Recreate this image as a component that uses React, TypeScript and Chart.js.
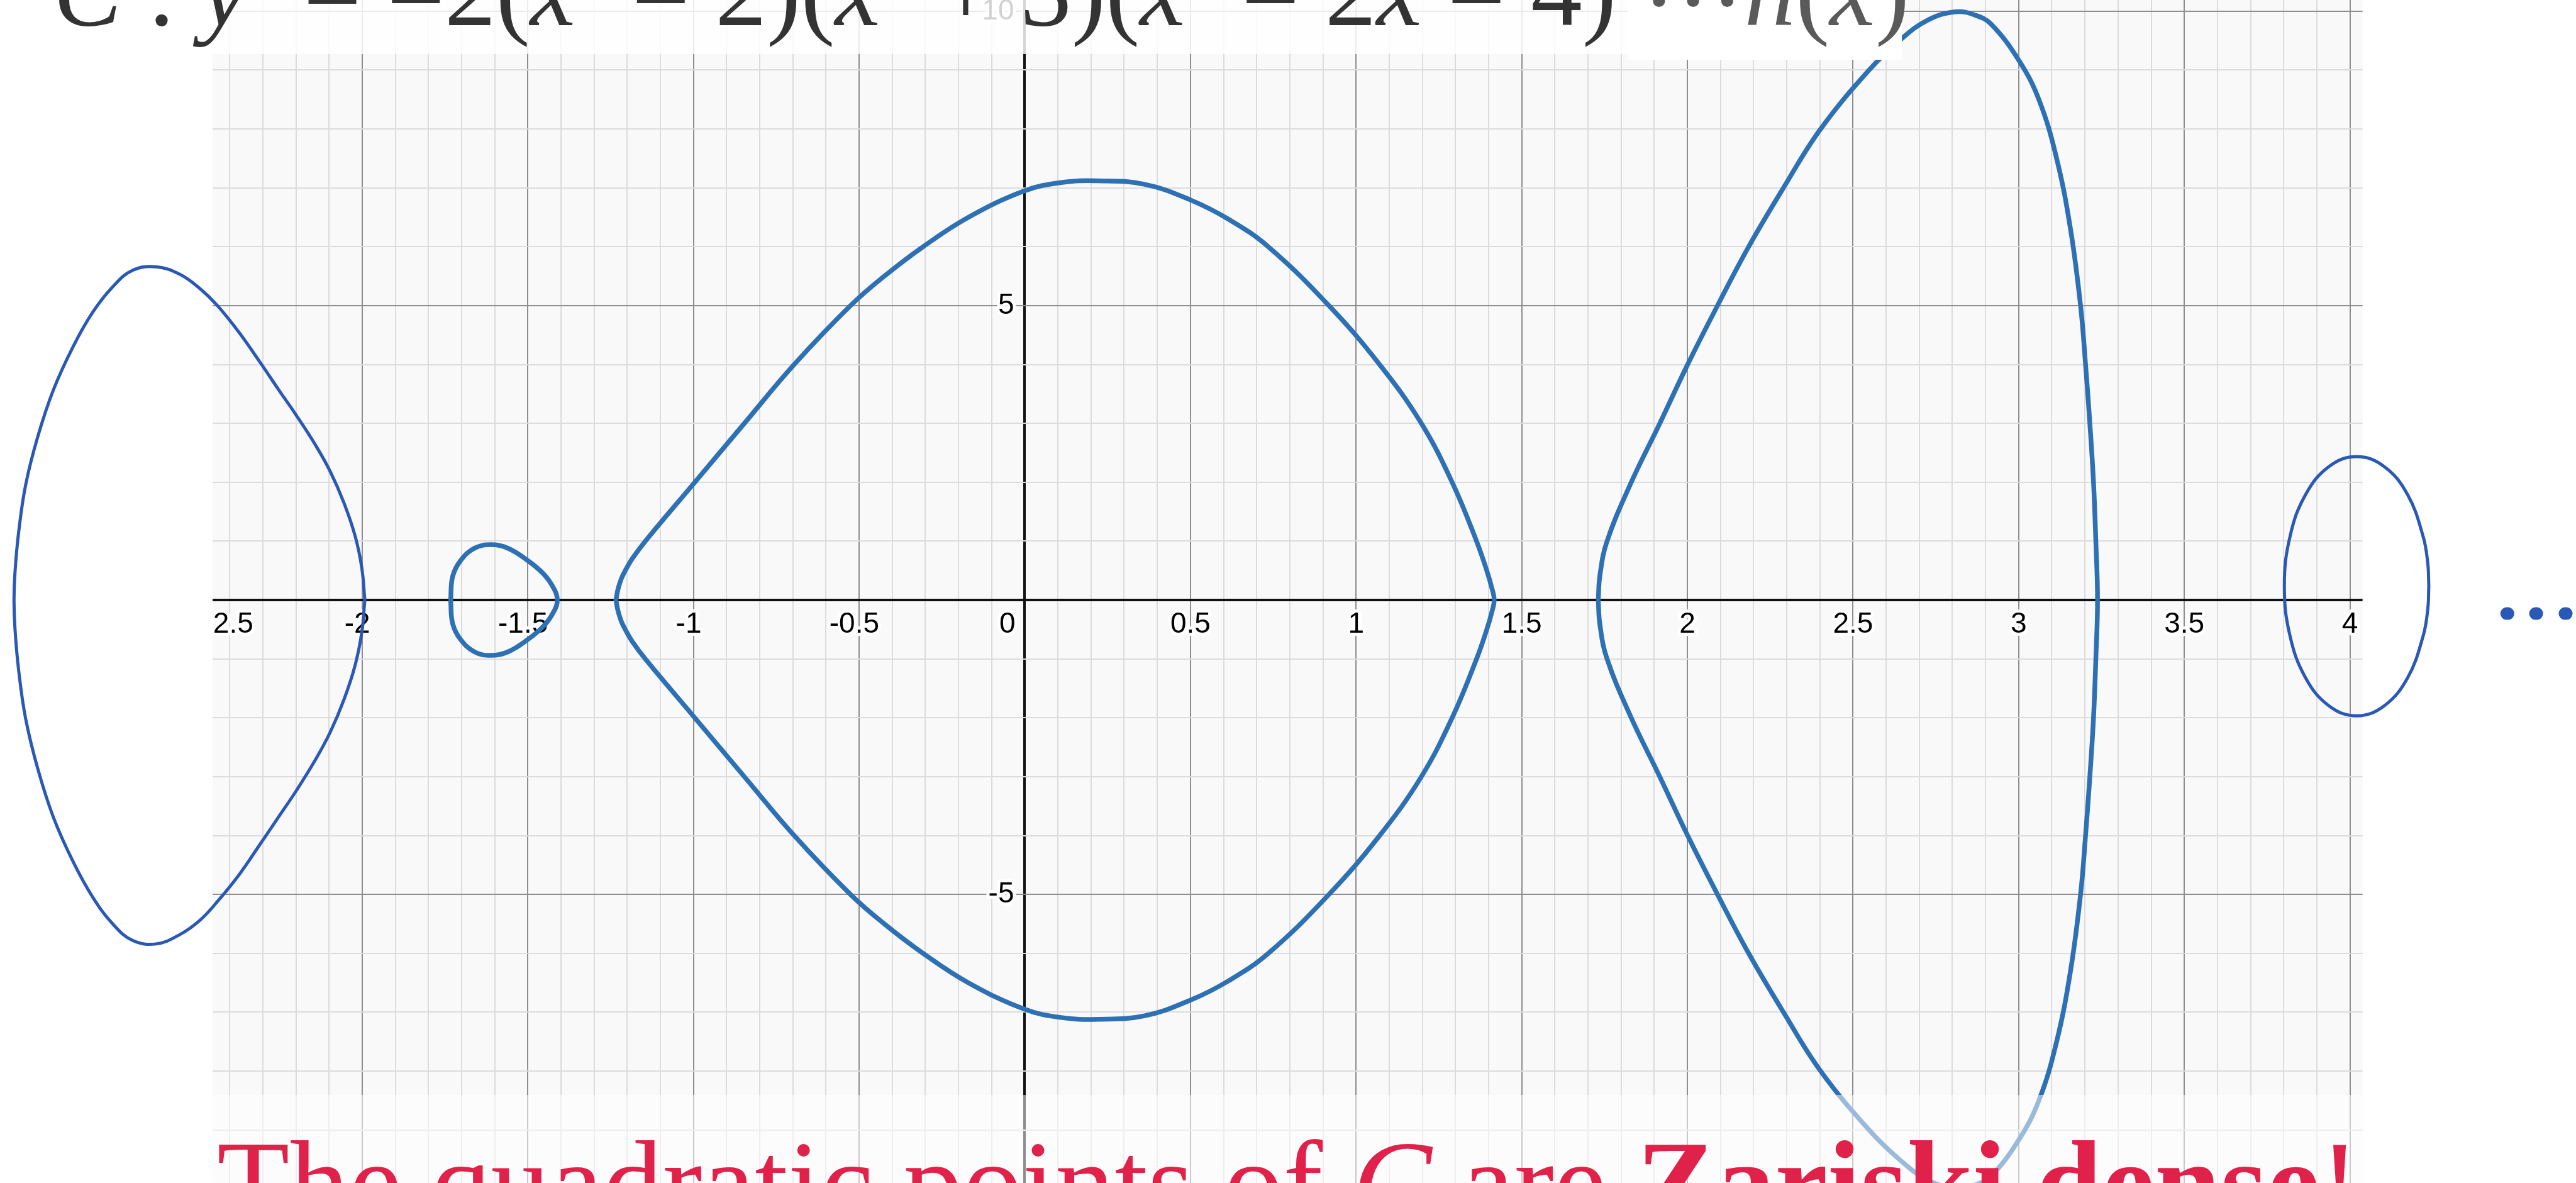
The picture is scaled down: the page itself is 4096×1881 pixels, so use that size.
import { useEffect, useRef } from 'react';
import { Chart, registerables } from 'chart.js';

Chart.register(...registerables);

// Visible window of the curve y^2 = f(x), in graph units
const X_MIN = -2.452;
const X_MAX = 4.038;
const Y_MIN = -9.9;
const Y_MAX = 10.19;

// Desmos-style axis labels
const xTickLabels = [-2.5, -2, -1.5, -1, -0.5, 0, 0.5, 1, 1.5, 2, 2.5, 3, 3.5, 4];
const yTickLabels = [10, 5, -5];

// Real components of the curve: [x, y] points along each closed oval
const bigOvalUpper = [
  [-1.234, 0], [-1.228, 0.18], [-1.218, 0.36], [-1.204, 0.52], [-1.184, 0.71], [-1.144, 1.01],
  [-0.996, 2.0], [-0.845, 3.01], [-0.696, 4.0], [-0.526, 5.0], [-0.424, 5.5], [-0.307, 6.0],
  [-0.17, 6.5], [0, 6.95], [0.11, 7.09], [0.219, 7.12], [0.362, 7.06], [0.502, 6.79], [0.614, 6.47],
  [0.735, 6.0], [0.918, 5.0], [1.071, 4.0], [1.196, 3.01], [1.29, 2.0], [1.363, 1.01], [1.394, 0.51],
  [1.41, 0.2], [1.417, 0],
];
const bigOvalLower = [
  [1.41, -0.2], [1.394, -0.51], [1.363, -1.01], [1.29, -2.0], [1.196, -3.01], [1.071, -4.0],
  [0.918, -5.0], [0.735, -6.0], [0.614, -6.47], [0.502, -6.79], [0.362, -7.06], [0.219, -7.12],
  [0.11, -7.09], [0, -6.95], [-0.17, -6.5], [-0.307, -6.0], [-0.424, -5.5], [-0.526, -5.0],
  [-0.696, -4.0], [-0.845, -3.01], [-0.996, -2.0], [-1.144, -1.01], [-1.184, -0.71], [-1.204, -0.52],
  [-1.218, -0.36], [-1.228, -0.18], [-1.234, 0],
];

const smallOvalUpper = [
  [-1.733, 0], [-1.727, 0.4], [-1.703, 0.67], [-1.661, 0.88], [-1.611, 0.94], [-1.56, 0.88],
  [-1.5, 0.67], [-1.452, 0.44], [-1.422, 0.2], [-1.411, 0],
];
const smallOvalLower = [
  [-1.422, -0.2], [-1.452, -0.44], [-1.5, -0.67], [-1.56, -0.88], [-1.611, -0.94], [-1.661, -0.88],
  [-1.703, -0.67], [-1.727, -0.4], [-1.733, 0],
];

const tallOvalUpper = [
  [1.731, 0], [1.736, 0.42], [1.757, 0.99], [1.829, 1.98], [1.915, 2.98], [2.0, 3.99], [2.09, 4.99],
  [2.184, 5.99], [2.289, 6.99], [2.401, 7.99], [2.547, 8.99], [2.642, 9.51], [2.726, 9.85],
  [2.81, 9.99], [2.87, 9.93], [2.917, 9.78], [3.0, 9.17], [3.061, 8.5], [3.115, 7.49], [3.157, 6.28],
  [3.187, 4.99], [3.202, 3.99], [3.215, 2.99], [3.226, 1.99], [3.233, 0.99], [3.238, 0],
];
const tallOvalLower = [
  [3.233, -0.99], [3.226, -1.99], [3.215, -2.99], [3.202, -3.99], [3.187, -4.99], [3.157, -6.28],
  [3.115, -7.49], [3.061, -8.5], [3.0, -9.17], [2.917, -9.78], [2.87, -9.93], [2.81, -9.99],
  [2.726, -9.85], [2.642, -9.51], [2.547, -8.99], [2.401, -7.99], [2.289, -6.99], [2.184, -5.99],
  [2.09, -4.99], [2.0, -3.99], [1.915, -2.98], [1.829, -1.98], [1.757, -0.99], [1.736, -0.42], [1.731, 0],
];

// Hand-drawn closure of the left component
const leftLoopUpper = [
  [-1.992, 0], [-2.001, 0.54], [-2.021, 1.08], [-2.055, 1.65], [-2.097, 2.19], [-2.144, 2.66],
  [-2.198, 3.13], [-2.252, 3.57], [-2.311, 4.06], [-2.371, 4.54], [-2.437, 5.0], [-2.49, 5.29],
  [-2.55, 5.53], [-2.622, 5.66], [-2.693, 5.6], [-2.753, 5.32], [-2.813, 4.89], [-2.872, 4.31],
  [-2.932, 3.57], [-2.98, 2.76], [-3.016, 1.95], [-3.037, 1.15], [-3.048, 0.47], [-3.051, 0],
];
const leftLoopLower = [
  [-3.048, -0.49], [-3.037, -1.19], [-3.016, -2.01], [-2.98, -2.85], [-2.932, -3.69], [-2.872, -4.45],
  [-2.813, -5.05], [-2.753, -5.5], [-2.693, -5.78], [-2.622, -5.84], [-2.55, -5.68], [-2.49, -5.44],
  [-2.437, -5.12], [-2.371, -4.66], [-2.311, -4.17], [-2.252, -3.68], [-2.198, -3.23], [-2.144, -2.74],
  [-2.097, -2.25], [-2.055, -1.69], [-2.021, -1.1], [-2.001, -0.54], [-1.992, 0],
];

// Next oval beyond the window
const rightLoop = [
  [4.238, 0.235], [4.235, 0.618], [4.221, 1.077], [4.174, 1.79], [4.103, 2.268], [4.02, 2.435],
  [3.937, 2.268], [3.866, 1.79], [3.819, 1.077], [3.802, 0.235], [3.819, -0.608], [3.866, -1.32],
  [3.937, -1.798], [4.02, -1.965], [4.103, -1.798], [4.174, -1.32], [4.221, -0.608], [4.235, -0.148],
  [4.238, 0.235],
];
// "more to come" dots, each a short round-capped stroke
const moreDots = [
  [[4.473, -0.23], [4.477, -0.23]],
  [[4.56, -0.23], [4.564, -0.23]],
  [[4.649, -0.23], [4.653, -0.23]],
];

// Slide text
const titleMain = ['C', ' : ', 'y', '²', ' = −2(', 'x', '²', ' − 2)(', 'x', '²', ' + 3)(', 'x', '²', ' − 2', 'x', ' − 4)'];
const titleTail = [' ···', 'h', '(', 'x', ')'];
const mathVars = new Set(['C', 'x', 'y', 'h']);
const footerLead = 'The quadratic points of ';
const footerVar = 'C';
const footerMid = ' are ';
const footerStrong = 'Zariski dense';
const footerEnd = '!';

const DESMOS_BLUE = '#2d70b3';
const PEN_BLUE = '#2a58b5';

const toPts = (a: number[][]) => a.map(([x, y]) => ({ x, y }));

const isMultiple = (v: number, step: number) => Math.abs(v / step - Math.round(v / step)) < 1e-6;

const gridBackground = {
  id: 'gridBackground',
  beforeDraw(chart: any) {
    const { ctx, chartArea: a } = chart;
    ctx.save();
    ctx.fillStyle = '#f9f9f9';
    ctx.fillRect(a.left, a.top, a.right - a.left, a.bottom - a.top);
    ctx.restore();
  },
};

const axisLabels = {
  id: 'axisLabels',
  beforeDatasetsDraw(chart: any) {
    const { ctx, chartArea: a, scales } = chart;
    const sx = scales.x;
    const sy = scales.y;
    const ax = sx.getPixelForValue(0);
    const ay = sy.getPixelForValue(0);
    ctx.save();
    ctx.beginPath();
    ctx.rect(a.left, a.top, a.right - a.left, a.bottom - a.top);
    ctx.clip();
    ctx.font = '46px "Liberation Sans", Arial, sans-serif';
    ctx.textBaseline = 'alphabetic';
    ctx.lineJoin = 'round';
    ctx.lineWidth = 10;
    ctx.strokeStyle = 'rgba(255,255,255,0.95)';
    ctx.fillStyle = '#000';
    const put = (t: string, x: number, y: number) => {
      ctx.strokeText(t, x, y);
      ctx.fillText(t, x, y);
    };
    ctx.textAlign = 'left';
    for (const v of xTickLabels) {
      const label = String(v);
      const px = sx.getPixelForValue(v);
      if (v === 0) {
        ctx.textAlign = 'right';
        put(label, ax - 15, ay + 52);
        ctx.textAlign = 'left';
        continue;
      }
      const digits = label.replace('-', '');
      const wd = ctx.measureText(digits).width;
      const wm = v < 0 ? ctx.measureText('-').width : 0;
      let dl = px - wd / 2;
      if (dl < a.left + 1) dl = a.left + 1;
      if (dl + wd > a.right - 1) dl = a.right - 1 - wd;
      put(label, dl - wm, ay + 52);
    }
    ctx.textAlign = 'right';
    for (const v of yTickLabels) {
      put(String(v), ax - 17, sy.getPixelForValue(v) + 13);
    }
    ctx.restore();
  },
};

const slideOverlays = {
  id: 'slideOverlays',
  afterDatasetsDraw(chart: any) {
    const { ctx, chartArea: a } = chart;
    ctx.save();
    // translucent strip under the formula
    ctx.fillStyle = 'rgba(255,255,255,0.82)';
    ctx.fillRect(0, 0, 2592, 86);
    // opaque box behind the tail of the formula
    ctx.fillStyle = '#ffffff';
    ctx.fillRect(2589, 0, 435, 95);
    // translucent strip under the closing sentence
    ctx.fillStyle = 'rgba(255,255,255,0.52)';
    ctx.fillRect(a.left, 1741, a.right - a.left, a.bottom - 1741);
    ctx.restore();
  },
  afterDraw(chart: any) {
    const { ctx } = chart;
    ctx.save();
    ctx.textBaseline = 'alphabetic';
    ctx.textAlign = 'left';
    // formula across the top; binary minus and the centred dots sit on the math axis
    const size = 163;
    let x = 85;
    const base = 40;
    const axisBottom: Record<string, number> = { '−': 5, '·': 11 };
    const run = (parts: string[], color: string) => {
      ctx.fillStyle = color;
      for (const p of parts) {
        ctx.font = `${mathVars.has(p) ? 'italic ' : ''}${size}px "Liberation Serif", "Times New Roman", serif`;
        for (const ch of Array.from(p)) {
          const m = ctx.measureText(ch);
          let y = base;
          if (ch in axisBottom) {
            const lift = -m.actualBoundingBoxDescent;
            y = axisBottom[ch] + lift;
          }
          ctx.fillText(ch, x, y);
          x += m.width;
        }
      }
    };
    run(titleMain, '#333333');
    run(titleTail, '#5a5a5a');

    // closing sentence along the bottom
    const fs = 189;
    let fx = 345;
    const fb = 1944;
    ctx.fillStyle = '#e0224b';
    const seg = (t: string, style: string) => {
      ctx.font = `${style}${fs}px "Liberation Serif", "Times New Roman", serif`;
      ctx.fillText(t, fx, fb);
      fx += ctx.measureText(t).width;
    };
    seg(footerLead, '');
    seg(footerVar, 'italic ');
    seg(footerMid, '');
    seg(footerStrong, 'bold ');
    seg(footerEnd, '');
    ctx.restore();
  },
};

const curveStyle = {
  showLine: true,
  pointRadius: 0,
  pointHoverRadius: 0,
  tension: 0.4,
  capBezierPoints: false,
  borderCapStyle: 'round',
  borderJoinStyle: 'round',
  fill: false,
};

export default function App() {
  const ref = useRef<HTMLCanvasElement>(null);

  useEffect(() => {
    if (!ref.current) return;
    const dotSets = moreDots.map((pair) => ({
      ...curveStyle,
      data: toPts(pair),
      tension: 0,
      borderColor: PEN_BLUE,
      borderWidth: 20,
      clip: false,
    }));
    const chart = new Chart(ref.current, {
      type: 'scatter',
      data: {
        datasets: [
          { ...curveStyle, data: toPts([...bigOvalUpper, ...bigOvalLower]), borderColor: DESMOS_BLUE, borderWidth: 7.5 },
          { ...curveStyle, data: toPts([...smallOvalUpper, ...smallOvalLower]), borderColor: DESMOS_BLUE, borderWidth: 7.5 },
          { ...curveStyle, data: toPts([...tallOvalUpper, ...tallOvalLower]), borderColor: DESMOS_BLUE, borderWidth: 7.5 },
          { ...curveStyle, data: toPts([...leftLoopUpper, ...leftLoopLower]), borderColor: PEN_BLUE, borderWidth: 5, clip: false },
          { ...curveStyle, data: toPts(rightLoop), borderColor: PEN_BLUE, borderWidth: 5, clip: false },
          ...dotSets,
        ] as any,
      },
      options: {
        animation: false,
        responsive: false,
        maintainAspectRatio: false,
        devicePixelRatio: 1,
        events: [],
        layout: { padding: { left: 337.8, right: 339.4, top: 0, bottom: 0 } },
        plugins: {
          legend: { display: false },
          tooltip: { enabled: false },
          title: { display: false },
        },
        scales: {
          x: {
            type: 'linear',
            min: X_MIN,
            max: X_MAX,
            border: { display: false },
            grid: {
              drawTicks: false,
              color: (c: any) => {
                const v = c.tick ? c.tick.value : 1;
                if (Math.abs(v) < 1e-9) return '#111111';
                return isMultiple(v, 0.5) ? '#8e8e8e' : '#dcdcdc';
              },
              lineWidth: (c: any) => {
                const v = c.tick ? c.tick.value : 1;
                return Math.abs(v) < 1e-9 ? 4 : 2;
              },
            },
            ticks: { display: false, stepSize: 0.1, includeBounds: false },
          },
          y: {
            type: 'linear',
            min: Y_MIN,
            max: Y_MAX,
            border: { display: false },
            grid: {
              drawTicks: false,
              color: (c: any) => {
                const v = c.tick ? c.tick.value : 1;
                if (Math.abs(v) < 1e-9) return '#111111';
                return isMultiple(v, 5) ? '#8e8e8e' : '#dcdcdc';
              },
              lineWidth: (c: any) => {
                const v = c.tick ? c.tick.value : 1;
                return Math.abs(v) < 1e-9 ? 4 : 2;
              },
            },
            ticks: { display: false, stepSize: 1, includeBounds: false },
          },
        },
      } as any,
      plugins: [gridBackground, axisLabels, slideOverlays],
    });
    return () => chart.destroy();
  }, []);

  return (
    <div
      style={{
        position: 'fixed',
        left: 0,
        top: 0,
        width: '4096px',
        height: '1881px',
        overflow: 'hidden',
        background: '#ffffff',
      }}
    >
      <canvas ref={ref} width={4096} height={1881} style={{ display: 'block', width: '4096px', height: '1881px' }} />
    </div>
  );
}
